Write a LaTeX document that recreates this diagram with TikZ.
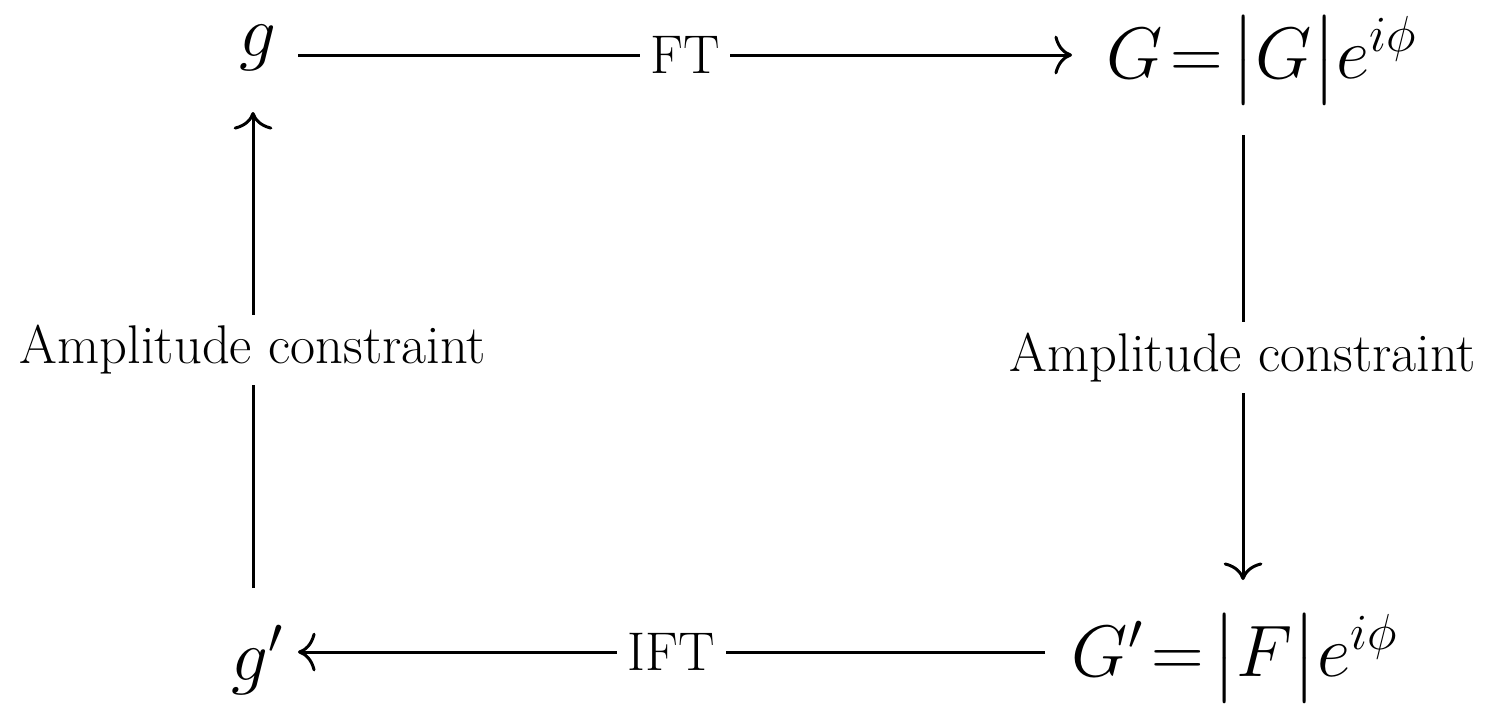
\documentclass[tikz,border=0pt]{standalone}
\usepackage{amsmath}
\usetikzlibrary{arrows.meta}
\begin{document}
\begin{tikzpicture}[x=0.01cm,y=-0.01cm,
  mathnode/.style={font=\fontsize{20}{24}\selectfont, inner sep=0pt},
  lbl/.style={font=\fontsize{15.5}{18}\selectfont, fill=white, inner sep=3pt},
  arr/.style={line width=0.85pt, -{To[length=5pt,width=11pt]}}]
\useasboundingbox (0,0) rectangle (1495,726);
\node[mathnode] (g) at (258,48) {$g$};
\node[mathnode] (G) at (1262,60) {$G\!=\!\bigl|G\bigr|e^{i\phi}$};
\node[mathnode] (gp) at (258,660) {$g'$};
\node[mathnode] (Gp) at (1235,658) {$G'\!=\!\bigl|F\bigr|e^{i\phi}$};
\coordinate (a1) at (298,55); \coordinate (a2) at (1072,55);
\coordinate (b1) at (1243,135); \coordinate (b2) at (1243,580);
\coordinate (c1) at (1045,652); \coordinate (c2) at (298,652);
\coordinate (d1) at (253,588); \coordinate (d2) at (253,112);
\draw[arr] (a1) -- node[lbl]{FT} (a2);
\draw[arr] (b1) -- node[lbl]{Amplitude constraint} (b2);
\draw[arr] (c1) -- node[lbl]{IFT} (c2);
\draw[arr] (d1) -- node[lbl]{Amplitude constraint} (d2);
\end{tikzpicture}
\end{document}
